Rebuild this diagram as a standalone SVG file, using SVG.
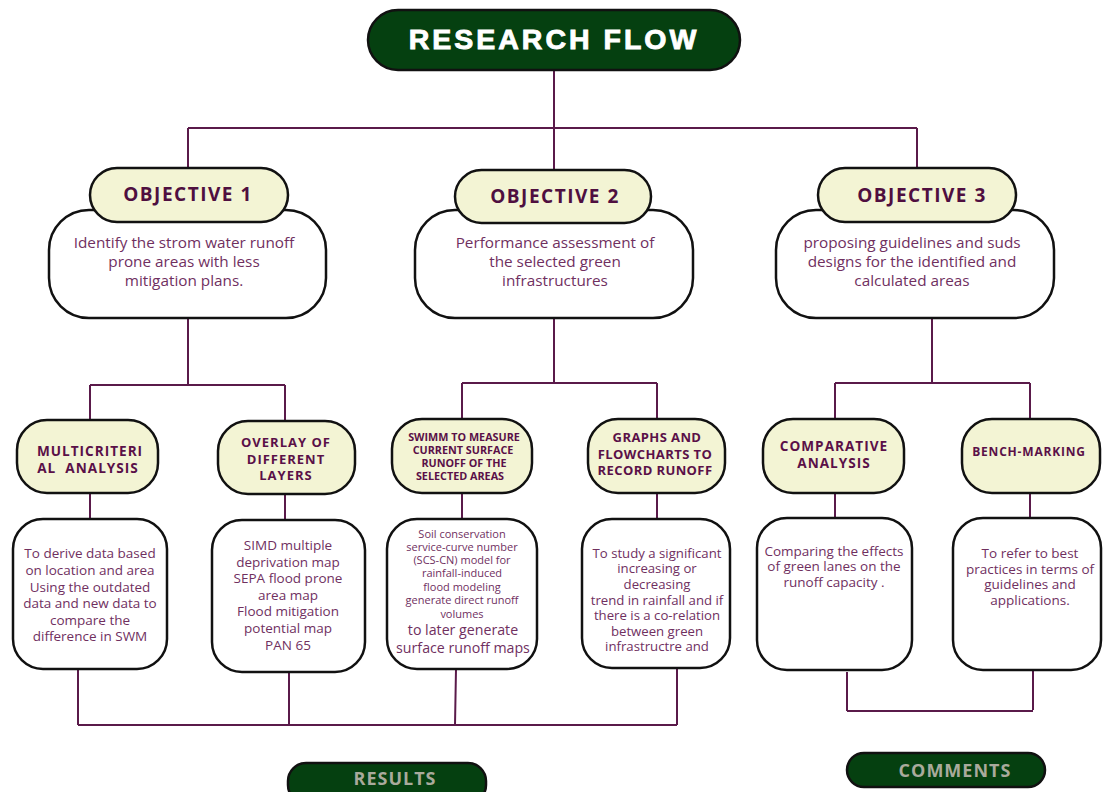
<svg xmlns="http://www.w3.org/2000/svg" width="1103" height="792" viewBox="0 0 1103 792">
<style>
.pill{fill:#f3f4d4;stroke:#111;stroke-width:2.5}
.body{fill:#fff;stroke:#111;stroke-width:2.5}
.dark{fill:#054010;stroke:#111;stroke-width:2.5}
.obj{font-family:"Open Sans","DejaVu Sans",sans-serif;font-weight:bold;font-size:19px;fill:#4f0f40;letter-spacing:1.5px;text-anchor:middle}
.sub{font-family:"Open Sans","DejaVu Sans",sans-serif;font-weight:bold;font-size:13px;fill:#5a1048;letter-spacing:1px;text-anchor:middle}
.tiny{font-family:"Open Sans","DejaVu Sans",sans-serif;font-weight:bold;font-size:10.8px;fill:#5a1048;text-anchor:middle}
.txt{font-family:"Open Sans","DejaVu Sans",sans-serif;font-size:13.5px;fill:#70305f;text-anchor:middle}
.big{font-size:15.3px}
.sm{font-family:"Open Sans","DejaVu Sans",sans-serif;font-size:11px;fill:#70305f;text-anchor:middle}
.con{fill:none;stroke:#5a1a4a;stroke-width:2}
</style>
<rect width="1103" height="792" fill="#fff"/>
<g id="connectors" class="con">
<path d="M554 70V128M188 128H917M188 128V170M554 128V172M917 128V170"/>
<path d="M188 318V385M90 385H285M90 385V420M285 385V421"/>
<path d="M554 318V383M462 383H657M462 383V420M657 383V420"/>
<path d="M932 318V383M835 383H1030M835 383V420M1030 383V420"/>
<path d="M90 493V519M285 494V520M462 493V519M657 493V519M835 493V518M1030 493V518"/>
<path d="M78 669V725M289 672V725M456 669L455 725M677 668V725M78 725H677"/>
<path d="M847 672V711M1033 670V710M847 711H1033"/>
</g>
<g id="title">
<rect class="dark" x="368" y="10" width="372" height="60" rx="30"/>
<text x="554" y="49" font-family="'Liberation Sans',Arial,sans-serif" font-weight="900" font-size="28.5" fill="#fff" text-anchor="middle" letter-spacing="3" stroke="#fff" stroke-width="0.9">RESEARCH FLOW</text>
</g>
<g id="obj1">
<rect class="body" x="49" y="210" width="277" height="108" rx="40"/>
<rect class="pill" x="90" y="168" width="198" height="54" rx="27"/>
<text class="obj" x="188" y="201">OBJECTIVE 1</text>
<text class="txt big" x="184" y="248">Identify the strom water runoff</text>
<text class="txt big" x="184" y="267">prone areas with less</text>
<text class="txt big" x="184" y="286">mitigation plans.</text>
</g>
<g id="obj2">
<rect class="body" x="415" y="210" width="278" height="108" rx="40"/>
<rect class="pill" x="455" y="170" width="196" height="53" rx="26.5"/>
<text class="obj" x="555" y="203">OBJECTIVE 2</text>
<text class="txt big" x="555" y="248">Performance assessment of</text>
<text class="txt big" x="555" y="267">the selected green</text>
<text class="txt big" x="555" y="286">infrastructures</text>
</g>
<g id="obj3">
<rect class="body" x="776" y="210" width="278" height="108" rx="40"/>
<rect class="pill" x="818" y="168" width="198" height="54" rx="27"/>
<text class="obj" x="922" y="202">OBJECTIVE 3</text>
<text class="txt big" x="912" y="248">proposing guidelines and suds</text>
<text class="txt big" x="912" y="267">designs for the identified and</text>
<text class="txt big" x="912" y="286">calculated areas</text>
</g>
<g id="multicriterial">
<rect class="pill" x="17" y="420" width="141" height="73" rx="30"/>
<text class="sub" x="90" y="456" style="font-size:13.6px">MULTICRITERI</text>
<text class="sub" x="88" y="473" style="font-size:13.6px">AL&#160;&#160;ANALYSIS</text>
</g>
<g id="overlay">
<rect class="pill" x="218" y="421" width="137" height="73" rx="30"/>
<text class="sub" x="286" y="447">OVERLAY OF</text>
<text class="sub" x="286" y="464">DIFFERENT</text>
<text class="sub" x="286" y="480">LAYERS</text>
</g>
<g id="swimm">
<rect class="pill" x="392" y="419" width="140" height="74" rx="30"/>
<text class="tiny" x="464" y="441">SWIMM TO MEASURE</text>
<text class="tiny" x="463" y="454">CURRENT SURFACE</text>
<text class="tiny" x="464" y="467">RUNOFF OF THE</text>
<text class="tiny" x="460" y="480">SELECTED AREAS</text>
</g>
<g id="graphs">
<rect class="pill" x="588" y="419" width="137" height="74" rx="30"/>
<text class="sub" x="657" y="442" style="letter-spacing:0.4px">GRAPHS AND</text>
<text class="sub" x="655" y="459" style="letter-spacing:0.4px">FLOWCHARTS TO</text>
<text class="sub" x="655" y="475" style="letter-spacing:0.4px">RECORD RUNOFF</text>
</g>
<g id="comparative">
<rect class="pill" x="763" y="419" width="141" height="74" rx="30"/>
<text class="sub" x="834" y="451" style="font-size:13.6px">COMPARATIVE</text>
<text class="sub" x="834" y="468" style="font-size:13.6px">ANALYSIS</text>
</g>
<g id="benchmarking">
<rect class="pill" x="962" y="419" width="138" height="74" rx="30"/>
<text class="sub" x="1029" y="456" style="font-size:12px;letter-spacing:0.8px">BENCH-MARKING</text>
</g>
<g id="box1">
<rect class="body" x="13" y="519" width="154" height="150" rx="30"/>
<text class="txt" x="90" y="558">To derive data based</text>
<text class="txt" x="90" y="575">on location and area</text>
<text class="txt" x="90" y="592">Using the outdated</text>
<text class="txt" x="90" y="608">data and new data to</text>
<text class="txt" x="90" y="625">compare the</text>
<text class="txt" x="90" y="641">difference in SWM</text>
</g>
<g id="box2">
<rect class="body" x="212" y="520" width="153" height="152" rx="30"/>
<text class="txt" x="288" y="550">SIMD multiple</text>
<text class="txt" x="288" y="567">deprivation map</text>
<text class="txt" x="288" y="583">SEPA flood prone</text>
<text class="txt" x="288" y="600">area map</text>
<text class="txt" x="288" y="616">Flood mitigation</text>
<text class="txt" x="288" y="633">potential map</text>
<text class="txt" x="288" y="650">PAN 65</text>
</g>
<g id="box3">
<rect class="body" x="387" y="519" width="150" height="150" rx="30"/>
<text class="sm" x="462" y="538">Soil conservation</text>
<text class="sm" x="462" y="551">service-curve number</text>
<text class="sm" x="462" y="564">(SCS-CN) model for</text>
<text class="sm" x="462" y="577">rainfall-induced</text>
<text class="sm" x="462" y="591">flood modeling</text>
<text class="sm" x="462" y="604">generate direct runoff</text>
<text class="sm" x="462" y="618">volumes</text>
<text class="txt" x="463" y="635" style="font-size:14.2px">to later generate</text>
<text class="txt" x="463" y="653" style="font-size:14.2px">surface runoff maps</text>
</g>
<g id="box4">
<rect class="body" x="582" y="519" width="148" height="149" rx="30"/>
<text class="txt" x="657" y="558" style="font-size:13.2px">To study a significant</text>
<text class="txt" x="657" y="573" style="font-size:13.2px">increasing or</text>
<text class="txt" x="657" y="589" style="font-size:13.2px">decreasing</text>
<text class="txt" x="657" y="605" style="font-size:13.2px">trend in rainfall and if</text>
<text class="txt" x="657" y="620" style="font-size:13.2px">there is a co-relation</text>
<text class="txt" x="657" y="636" style="font-size:13.2px">between green</text>
<text class="txt" x="657" y="651" style="font-size:13.2px">infrastructre and</text>
</g>
<g id="box5">
<rect class="body" x="757" y="518" width="155" height="152" rx="30"/>
<text class="txt" x="834" y="556">Comparing the effects</text>
<text class="txt" x="834" y="571">of green lanes on the</text>
<text class="txt" x="834" y="587">runoff capacity .</text>
</g>
<g id="box6">
<rect class="body" x="953" y="518" width="148" height="152" rx="30"/>
<text class="txt" x="1030" y="558">To refer to best</text>
<text class="txt" x="1030" y="574">practices in terms of</text>
<text class="txt" x="1030" y="589">guidelines and</text>
<text class="txt" x="1030" y="605">applications.</text>
</g>
<g id="results">
<rect class="dark" x="288" y="763" width="198" height="40" rx="18"/>
<text x="395" y="785" font-family="'Open Sans',sans-serif" font-weight="bold" font-size="18" fill="#a9aa9c" text-anchor="middle" letter-spacing="1">RESULTS</text>
</g>
<g id="comments">
<rect class="dark" x="847" y="753" width="198" height="34" rx="17"/>
<text x="955" y="777" font-family="'Open Sans',sans-serif" font-weight="bold" font-size="18" fill="#a9aa9c" text-anchor="middle" letter-spacing="1">COMMENTS</text>
</g>
</svg>
